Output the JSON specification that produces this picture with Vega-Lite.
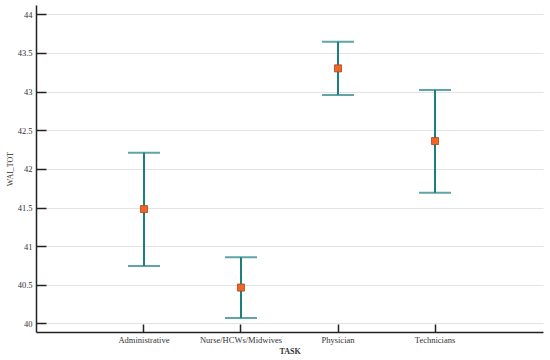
{
  "$schema": "https://vega.github.io/schema/vega-lite/v6.json",
  "width": 507,
  "height": 327,
  "autosize": "none",
  "padding": {"left": 36, "top": 5, "right": 7, "bottom": 28},
  "background": "white",
  "data": {"values": [
    {"TASK": "Administrative", "mean": 41.48, "lo": 40.745, "hi": 42.21},
    {"TASK": "Nurse/HCWs/Midwives", "mean": 40.465, "lo": 40.07, "hi": 40.857},
    {"TASK": "Physician", "mean": 43.30, "lo": 42.957, "hi": 43.645},
    {"TASK": "Technicians", "mean": 42.36, "lo": 41.69, "hi": 43.02}
  ]},
  "config": {
    "view": {"stroke": null},
    "font": "Liberation Serif",
    "axis": {
      "labelFont": "Liberation Serif",
      "titleFont": "Liberation Serif",
      "labelColor": "#333333",
      "titleColor": "#333333",
      "labelFontSize": 8.5,
      "titleFontSize": 8,
      "domainColor": "#222222",
      "domainWidth": 1.5,
      "tickColor": "#222222",
      "tickWidth": 1.5
    }
  },
  "encoding": {
    "x": {
      "field": "TASK", "type": "nominal", "sort": null,
      "scale": {"type": "band", "paddingInner": 0, "paddingOuter": 0.613},
      "axis": {"title": "TASK", "titleFontWeight": "bold", "labelAngle": 0, "tickSize": -8, "labelPadding": 11, "titlePadding": 4, "grid": false, "tickBand": "center"}
    }
  },
  "layer": [
    {
      "mark": {"type": "rule", "color": "#1b7f7f", "strokeWidth": 2},
      "encoding": {
        "y": {"field": "lo", "type": "quantitative", "scale": {"domain": [39.89, 44.12], "nice": false, "zero": false},
          "axis": {"title": "WAI_TOT", "titleFontWeight": "normal", "format": "~g", "values": [40, 40.5, 41, 41.5, 42, 42.5, 43, 43.5, 44], "tickSize": -10, "labelPadding": 14, "titlePadding": 3, "grid": true, "gridColor": "#e3e3e3", "gridWidth": 1}},
        "y2": {"field": "hi"}
      }
    },
    {
      "mark": {"type": "tick", "orient": "horizontal", "color": "#1b7f7f", "size": 32, "thickness": 2},
      "encoding": {"y": {"field": "lo", "type": "quantitative"}}
    },
    {
      "mark": {"type": "tick", "orient": "horizontal", "color": "#1b7f7f", "size": 32, "thickness": 2},
      "encoding": {"y": {"field": "hi", "type": "quantitative"}}
    },
    {
      "mark": {"type": "square", "size": 50, "opacity": 1, "fill": "#f26522", "stroke": "#9a4a2a", "strokeWidth": 0.8, "filled": true},
      "encoding": {"y": {"field": "mean", "type": "quantitative"}}
    }
  ]
}
